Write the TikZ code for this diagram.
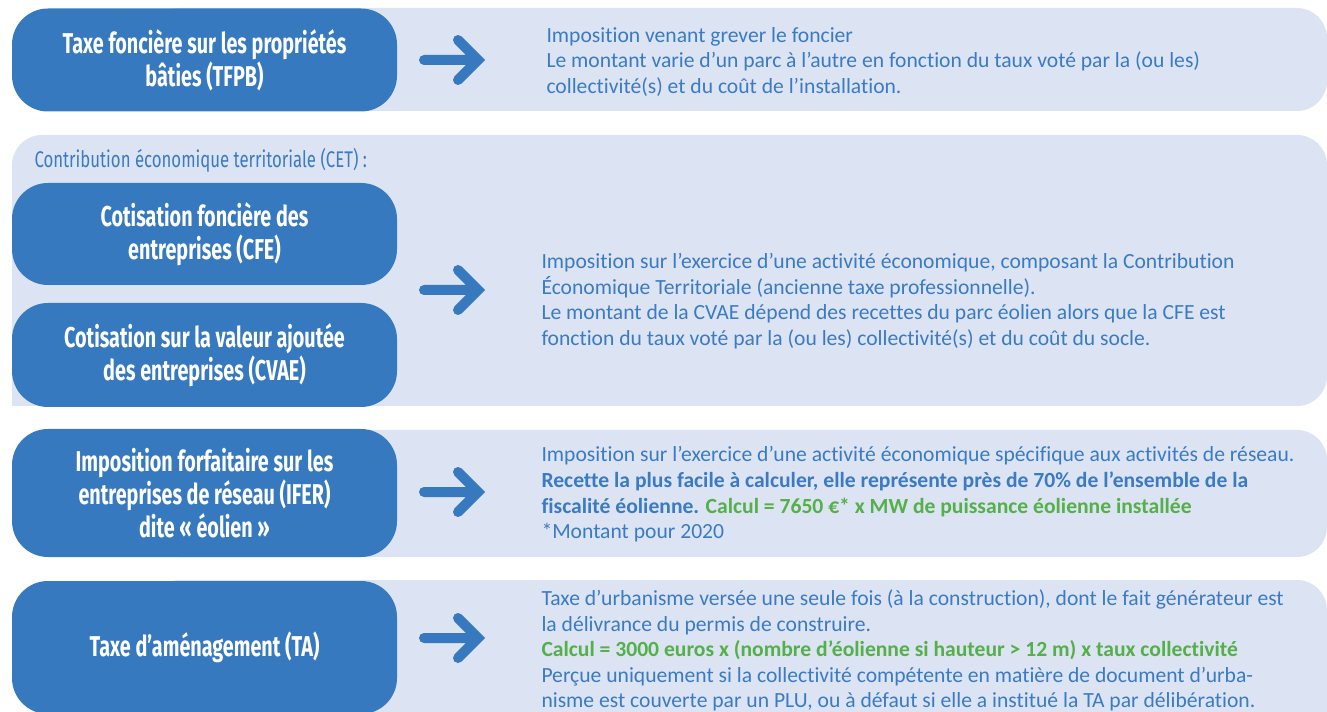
\documentclass[tikz,border=0pt]{standalone}
\usepackage{fontspec}
\setmainfont{Carlito}[Ligatures=NoCommon]
\newfontfamily\labelfont[FakeStretch=0.69]{Fira Sans}
\newfontfamily\headfont[FakeStretch=0.74]{Fira Sans}

\definecolor{boxblue}{RGB}{55,121,191}
\definecolor{bandgrey}{RGB}{220,227,242}
\definecolor{txtblue}{RGB}{58,123,196}
\definecolor{calcgreen}{RGB}{84,176,72}

\tikzset{every picture/.style={line width=0.75pt},
  band/.style={fill=bandgrey, draw=none},
  taxbox/.style={fill=boxblue, rounded corners=27pt, text=white, align=center, minimum width=288.75pt, inner sep=0pt, font=\labelfont\bfseries\fontsize{21.5}{24.75}\selectfont},
  desc/.style={anchor=west, text=txtblue, align=left, inner sep=0.75pt, font=\fontsize{16.2}{19.2}\selectfont},
  goarrow/.style={draw=boxblue, line width=7.5pt, line cap=round, line join=miter}
}

\begin{document}
\begin{tikzpicture}[x=0.75pt,y=0.75pt,yscale=-1,xscale=1]
\clip (0,0) rectangle (1327,712);

%Shape: Rectangle [band TFPB]
\fill [band, rounded corners=22.5pt] (150,8) rectangle (1327,111);
%Shape: Rectangle [band CET]
\fill [band] (12,406) -- (12,300) [rounded corners=22.5pt] -- (12,135) -- (1327,135) -- (1327,406) -- (700,406) [sharp corners] -- (12,406) -- cycle;
%Shape: Rectangle [band IFER]
\fill [band, rounded corners=22.5pt] (150,430) rectangle (1327,557);
%Shape: Rectangle [band TA]
\fill [band, rounded corners=22.5pt] (150,580) rectangle (1327,760);

% Text Node
\node (tfpb) [taxbox, minimum height=77.25pt] at (204.5,60) {Taxe foncière sur les propriétés\\bâties (TFPB)};
% Text Node
\node (cet) [anchor=west, text=txtblue, inner sep=0pt, font=\headfont\fontsize{17}{19}\selectfont] at (34,160) {Contribution économique territoriale (CET) :};
% Text Node
\node (cfe) [taxbox, minimum height=76.5pt] at (204.5,234) {Cotisation foncière des\\entreprises (CFE)};
% Text Node
\node (cvae) [taxbox, minimum height=78pt] at (204.5,355) {Cotisation sur la valeur ajoutée\\des entreprises (CVAE)};
% Text Node
\node (ifer) [taxbox, minimum height=96pt] at (204.5,493) {Imposition forfaitaire sur les\\entreprises de réseau (IFER)\\dite « éolien »};
% Text Node
\node (ta) [taxbox, minimum height=99.75pt] at (204.5,647.5) {Taxe d’aménagement (TA)};

%Straight Lines [arrows]
\coordinate (a1s) at (424,60);
\coordinate (a1e) at (478,60);
\coordinate (a2s) at (424,290);
\coordinate (a2e) at (478,290);
\coordinate (a3s) at (424,492);
\coordinate (a3e) at (478,492);
\coordinate (a4s) at (424,638);
\coordinate (a4e) at (478,638);
\draw [goarrow] (a1s) -- (a1e) ++(-20,-20) -- (a1e) -- ++(-20,20);
\draw [goarrow] (a2s) -- (a2e) ++(-20,-20) -- (a2e) -- ++(-20,20);
\draw [goarrow] (a3s) -- (a3e) ++(-20,-20) -- (a3e) -- ++(-20,20);
\draw [goarrow] (a4s) -- (a4e) ++(-20,-20) -- (a4e) -- ++(-20,20);

% Text Node
\node (d1) [desc] at (545,62) {Imposition venant grever le foncier\\Le montant varie d’un parc à l’autre en fonction du taux voté par la (ou les)\\collectivité(s) et du coût de l’installation.};
% Text Node
\node (d2) [desc] at (540,301) {Imposition sur l’exercice d’une activité économique, composant la Contribution\\Économique Territoriale (ancienne taxe professionnelle).\\Le montant de la CVAE dépend des recettes du parc éolien alors que la CFE est\\fonction du taux voté par la (ou les) collectivité(s) et du coût du socle.};
% Text Node
\node (d3) [desc] at (540,494.5) {Imposition sur l’exercice d’une activité économique spécifique aux activités de réseau.\\\textbf{Recette la plus facile à calculer, elle représente près de 70\% de l’ensemble de la}\\\textbf{fiscalité éolienne.} {\color{calcgreen}\textbf{Calcul = 7650 €* x MW de puissance éolienne installée}}\\{*}Montant pour 2020};
% Text Node
\node (d4) [desc] at (540,650.5) {Taxe d’urbanisme versée une seule fois (à la construction), dont le fait générateur est\\la délivrance du permis de construire.\\{\color{calcgreen}\textbf{Calcul = 3000 euros x (nombre d’éolienne si hauteur > 12 m) x taux collectivité}}\\Perçue uniquement si la collectivité compétente en matière de document d’urba-\\nisme est couverte par un PLU, ou à défaut si elle a institué la TA par délibération.};

\end{tikzpicture}
\end{document}
